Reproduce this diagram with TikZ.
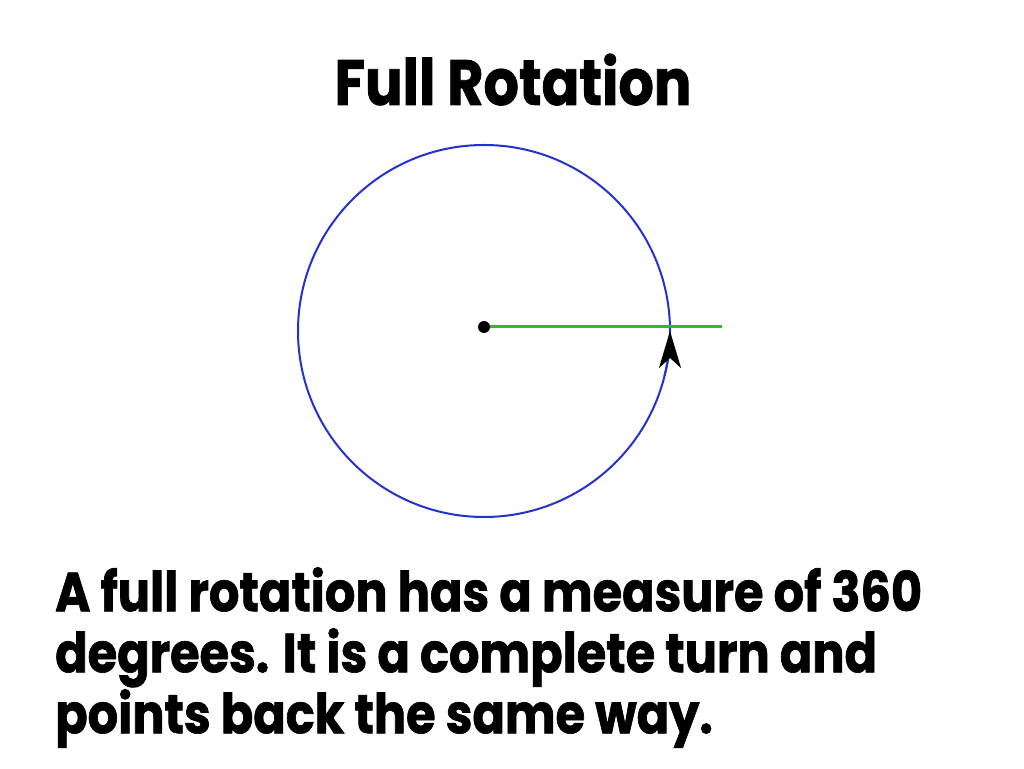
\documentclass[tikz,border=0pt]{standalone}
\usepackage{fontspec}
\setmainfont{Poppins}[FakeStretch=0.87, BoldFeatures={FakeBold=1.2}]
\usepackage{tikz}
\usetikzlibrary{arrows.meta, positioning}

\definecolor{rimblue}{RGB}{35,50,205}
\definecolor{raygreen}{RGB}{40,190,40}

\begin{document}
\begin{tikzpicture}[x=1pt, y=1pt,
        rim/.style={draw=rimblue, line width=2pt},
        ray/.style={draw=raygreen, line width=3pt},
        heading/.style={font=\fontsize{64}{70}\selectfont\bfseries, inner sep=0pt, anchor=base},
        caption/.style={font=\fontsize{55}{61}\selectfont\bfseries, align=left, anchor=north west, inner sep=0pt}]

        % Page
        \fill[white] (0,0) rectangle (1024,768);
        \useasboundingbox (0,0) rectangle (1024,768);

        % Coordinates
        \coordinate (O) at (484,437);
        \coordinate (P) at (484,441);
        \coordinate (E) at (722,441);

        % Circle and ray
        \draw[rim] (O) circle (186pt);
        \draw[ray] (P) -- (E);
        \fill[black] (P) circle (6pt);

        % Arrowhead on the circle
        \draw[rim, -{Stealth[length=37pt, width=22pt, inset=10pt, color=black]}] (O) ++(-14:186pt) arc (-14:0:186pt);

        % Labels
        \node[heading] (title) at (513,663) {Full Rotation};
        \node[caption] (text) at (55,201) {A full rotation has a measure of 360\\degrees. It is a complete turn and\\points back the same way.};

    \end{tikzpicture}
\end{document}
